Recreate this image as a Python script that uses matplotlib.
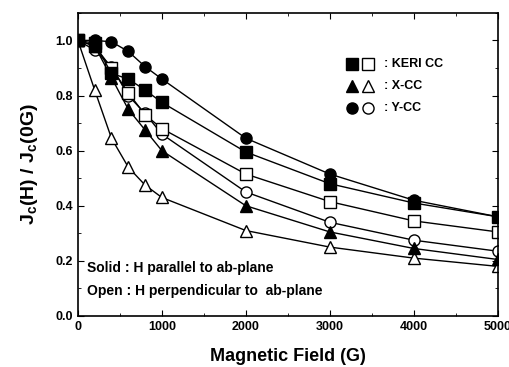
import numpy as np
import matplotlib.pyplot as plt
from matplotlib.ticker import MultipleLocator

plt.rcParams['font.family'] = ['Liberation Sans', 'DejaVu Sans']
plt.rcParams['font.weight'] = 'bold'
plt.rcParams['mathtext.fontset'] = 'custom'
plt.rcParams['mathtext.rm'] = 'Liberation Sans:bold'

# Campo magnetico (G)
campo = [0, 200, 400, 600, 800, 1000, 2000, 3000, 4000, 5000]

# Jc(H)/Jc(0G) - solido: H paralelo, aberto: H perpendicular
keri_par = [1.0, 0.99, 0.88, 0.86, 0.82, 0.775, 0.595, 0.48, 0.41, 0.36]
keri_perp = [1.0, 0.98, 0.90, 0.81, 0.73, 0.68, 0.515, 0.415, 0.345, 0.305]
x_par = [1.0, 0.98, 0.865, 0.75, 0.675, 0.60, 0.40, 0.305, 0.245, 0.205]
x_perp = [1.0, 0.82, 0.645, 0.54, 0.475, 0.43, 0.31, 0.25, 0.21, 0.18]
y_par = [1.0, 1.0, 0.995, 0.96, 0.905, 0.86, 0.645, 0.515, 0.42, 0.36]
y_perp = [1.0, 0.965, 0.905, 0.80, 0.735, 0.66, 0.45, 0.34, 0.275, 0.235]

fig = plt.figure(figsize=(5.09, 3.67), dpi=100)
ax = fig.add_axes([0.153, 0.139, 0.825, 0.826])

estilo = dict(color='black', lw=1, markersize=8, markeredgewidth=1, markeredgecolor='black')
ax.plot(campo, x_perp, marker='^', markerfacecolor='white', **estilo)
ax.plot(campo, y_perp, marker='o', markerfacecolor='white', **estilo)
ax.plot(campo, keri_perp, marker='s', markerfacecolor='white', **estilo)
ax.plot(campo, x_par, marker='^', markerfacecolor='black', **estilo)
ax.plot(campo, keri_par, marker='s', markerfacecolor='black', **estilo)
ax.plot(campo, y_par, marker='o', markerfacecolor='black', **estilo)

ax.set_xlim(0, 5000)
ax.set_ylim(0, 1.1)
ax.xaxis.set_major_locator(MultipleLocator(1000))
ax.xaxis.set_minor_locator(MultipleLocator(500))
ax.yaxis.set_minor_locator(MultipleLocator(0.1))
ax.set_yticks(np.arange(0, 1.01, 0.2))
ax.set_yticklabels(['%.1f' % v for v in np.arange(0, 1.01, 0.2)])
ax.tick_params(which='both', direction='in', top=True, right=True, labelsize=9)
ax.tick_params(which='major', length=4)
ax.tick_params(which='minor', length=2)
for s in ax.spines.values():
    s.set_linewidth(1.2)

ax.set_xlabel('Magnetic Field (G)', fontsize=13, fontweight='bold', labelpad=11)
ax.set_ylabel(r'J$_\mathrm{c}$(H) / J$_\mathrm{c}$(0G)', fontsize=14, fontweight='bold', labelpad=11)

# legenda manual
linhas = [('s', ': KERI CC', 0.832), ('^', ': X-CC', 0.759), ('o', ': Y-CC', 0.686)]
for mk, txt, yy in linhas:
    ax.plot([0.652], [yy], marker=mk, color='black', markersize=8, transform=ax.transAxes, clip_on=False)
    ax.plot([0.69], [yy], marker=mk, markerfacecolor='white', markeredgecolor='black',
            markersize=8, transform=ax.transAxes, clip_on=False)
    ax.text(0.728, yy, txt, transform=ax.transAxes, fontsize=9, fontweight='bold', va='center')

ax.text(0.022, 0.158, 'Solid : H parallel to ab-plane', transform=ax.transAxes,
        fontsize=10, fontweight='bold', va='center')
ax.text(0.022, 0.083, 'Open : H perpendicular to  ab-plane', transform=ax.transAxes,
        fontsize=10, fontweight='bold', va='center')

fig.savefig('out.png', dpi=100)
